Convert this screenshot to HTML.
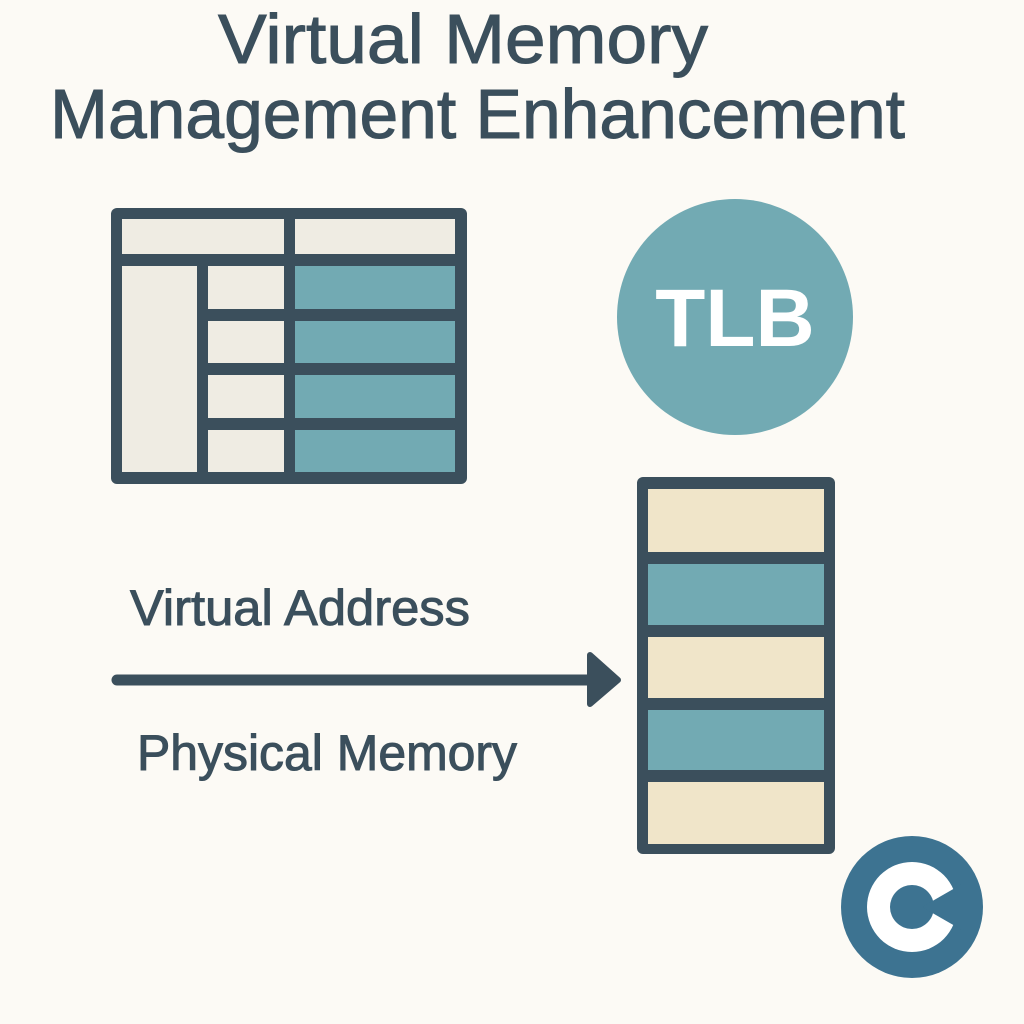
<!DOCTYPE html>
<html><head><meta charset="utf-8"><style>html,body{margin:0;padding:0;background:#fcfaf5;}svg{display:block}</style></head>
<body>
<svg width="1024" height="1024" viewBox="0 0 1024 1024" xmlns="http://www.w3.org/2000/svg">
<rect width="1024" height="1024" fill="#fcfaf5"/>
<g font-family="Liberation Sans, sans-serif" fill="#3b4f5c" stroke="#3b4f5c" stroke-width="1">
<text x="218" y="63" font-size="70" textLength="490" lengthAdjust="spacingAndGlyphs">Virtual Memory</text>
<text x="50" y="138" font-size="70" textLength="855" lengthAdjust="spacingAndGlyphs">Management Enhancement</text>
<text x="130" y="625" font-size="50" textLength="340" lengthAdjust="spacingAndGlyphs">Virtual Address</text>
<text x="137" y="770" font-size="50" textLength="380" lengthAdjust="spacingAndGlyphs">Physical Memory</text>
</g>
<!-- table -->
<rect x="111" y="208" width="356" height="276" rx="6" fill="#3b4f5c"/>
<g fill="#efece3">
<rect x="122" y="219" width="162" height="35"/>
<rect x="295" y="219" width="160" height="35"/>
<rect x="122" y="266" width="75" height="206"/>
<rect x="208" y="266" width="76" height="43"/>
<rect x="208" y="321" width="76" height="42"/>
<rect x="208" y="375" width="76" height="43"/>
<rect x="208" y="430" width="76" height="42"/>
</g>
<g fill="#72aab3">
<rect x="295" y="266" width="160" height="43"/>
<rect x="295" y="321" width="160" height="42"/>
<rect x="295" y="375" width="160" height="43"/>
<rect x="295" y="430" width="160" height="42"/>
</g>
<!-- TLB -->
<circle cx="735" cy="317" r="118" fill="#72aab3"/>
<text x="735" y="346" font-family="Liberation Sans, sans-serif" font-weight="bold" font-size="82" fill="#fff" text-anchor="middle">TLB</text>
<!-- memory -->
<rect x="637" y="477" width="198" height="377" rx="6" fill="#3b4f5c"/>
<rect x="648" y="489" width="176" height="63" fill="#f0e5c9"/>
<rect x="648" y="564" width="176" height="61" fill="#72aab3"/>
<rect x="648" y="637" width="176" height="61" fill="#f0e5c9"/>
<rect x="648" y="710" width="176" height="60" fill="#72aab3"/>
<rect x="648" y="782" width="176" height="62" fill="#f0e5c9"/>
<!-- arrow -->
<line x1="117" y1="680" x2="595" y2="680" stroke="#3b4f5c" stroke-width="11" stroke-linecap="round"/>
<polygon points="590,655 618,680 590,704" fill="#3b4f5c" stroke="#3b4f5c" stroke-width="6" stroke-linejoin="round"/>
<!-- C logo -->
<circle cx="912" cy="907" r="71" fill="#3d7391"/>
<circle cx="912" cy="907" r="45" fill="#fff"/>
<circle cx="912" cy="907" r="22" fill="#3d7391"/>
<polygon points="922,907 962,884 962,930" fill="#3d7391"/>
</svg>
</body></html>
